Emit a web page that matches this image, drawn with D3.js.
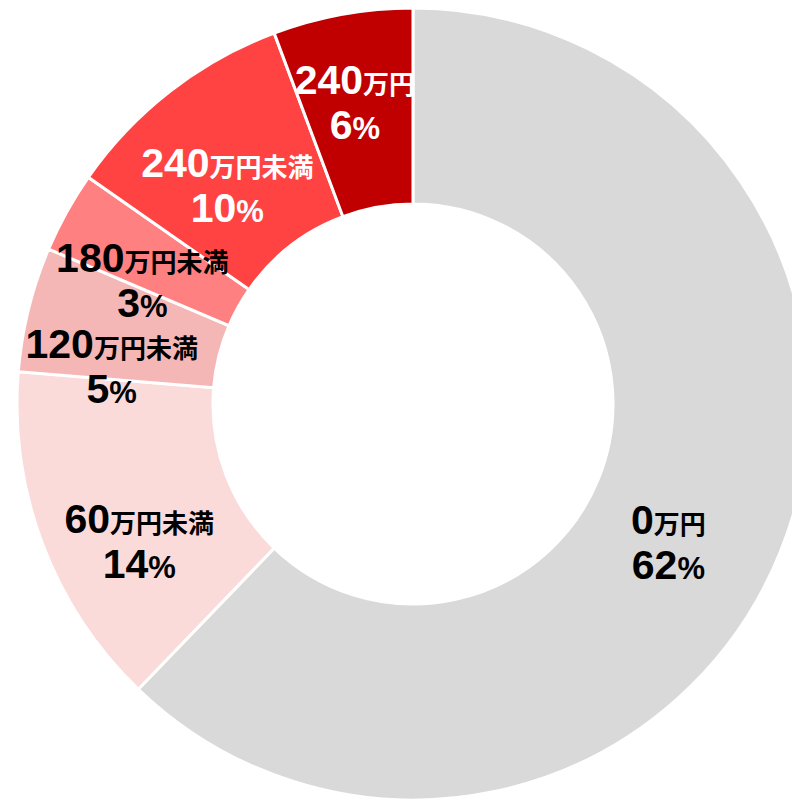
<!DOCTYPE html>
<html>
<head>
<meta charset="utf-8">
<script src="https://cdn.jsdelivr.net/npm/d3@7"></script>
<style>
  body { margin: 0; background: #fff; }
  svg { display: block; }
  text { font-family: "Liberation Sans", Arial, "Noto Sans CJK JP", sans-serif; font-weight: bold; }
  .jp { font-family: "Noto Sans CJK JP", sans-serif; }
</style>
</head>
<body>
<script>
// slices, clockwise from 12 o'clock
var amounts  = ["0", "60", "120", "180", "240", "240"];
var suffixes = ["万円", "万円未満", "万円未満", "万円未満", "万円未満", "万円"];
var shares   = [62.2, 14.1, 5.1, 3.3, 9.6, 5.7];
var colors   = ["#d9d9d9", "#fadbd9", "#f5b7b6", "#ff8080", "#ff4343", "#c00000"];
var textColors = ["#000", "#000", "#000", "#000", "#fff", "#fff"];
// label nudges off the arc centroid (Excel moved a few of them)
var nudges = [[-21, 19], [5, 24], [-12, 25], [-10, 12], [-3, 8], [-5, -17]];

var width = 792, height = 804;
var cx = 413, cy = 404;
var outerR = 396, innerR = 200;

var svg = d3.select("body").append("svg")
    .attr("width", width)
    .attr("height", height);

var g = svg.append("g").attr("transform", "translate(" + cx + "," + cy + ")");

var pie = d3.pie().sort(null).value(function(d) { return d; });
var arc = d3.arc().innerRadius(innerR).outerRadius(outerR);
var arcs = pie(shares);

g.selectAll("path.slice")
  .data(arcs)
  .enter().append("path")
    .attr("class", "slice")
    .attr("d", arc)
    .attr("fill", function(d, i) { return colors[i]; })
    .attr("stroke", "#fff")
    .attr("stroke-width", 3);

var labels = g.selectAll("g.label")
  .data(arcs)
  .enter().append("g")
    .attr("class", "label")
    .attr("transform", function(d, i) {
        var c = arc.centroid(d);
        return "translate(" + (c[0] + nudges[i][0]) + "," + (c[1] + nudges[i][1]) + ")";
    })
    .attr("fill", function(d, i) { return textColors[i]; });

var line1 = labels.append("text")
    .attr("text-anchor", "middle")
    .attr("y", 0);
line1.append("tspan").style("font-size", "41px").text(function(d, i) { return amounts[i]; });
line1.append("tspan").attr("class", "jp").style("font-size", "26px").text(function(d, i) { return suffixes[i]; });

var line2 = labels.append("text")
    .attr("text-anchor", "middle")
    .attr("y", 45);
line2.append("tspan").style("font-size", "41px").text(function(d) { return Math.round(d.data); });
line2.append("tspan").style("font-size", "31px").text("%");
</script>
</body>
</html>
